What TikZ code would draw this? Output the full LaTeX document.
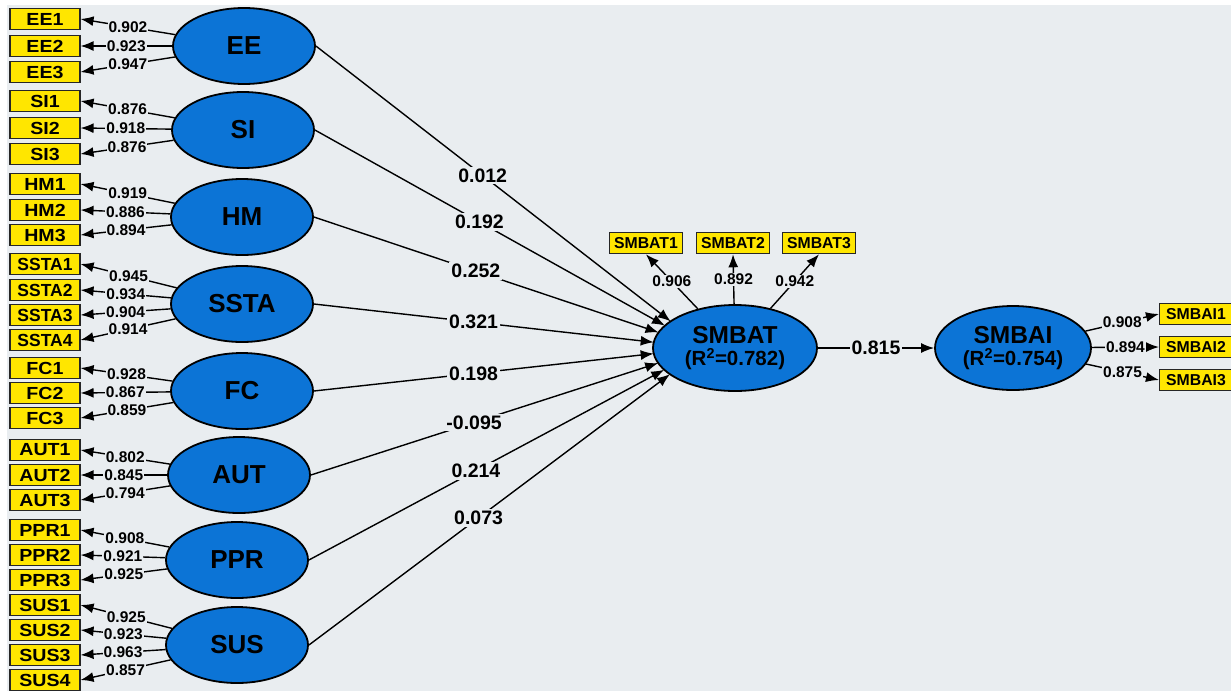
\documentclass[tikz,border=0pt]{standalone}
\usepackage{fontspec}
\usepackage{graphicx}
\setmainfont{Liberation Sans}
\usetikzlibrary{shapes.geometric,arrows.meta,intersections}

\definecolor{canvas}{RGB}{233,237,240}
\definecolor{lvblue}{RGB}{12,116,214}
\definecolor{indyellow}{RGB}{255,230,0}

\newcommand{\fsz}[1]{\fontsize{#1}{#1}\selectfont\bfseries}

% indicator caption: slightly widened, but never wider than the box allows
\newsavebox\indtext
\newcommand{\indcap}[1]{%
  \sbox\indtext{\scalebox{1.12}[1]{#1}}%
  \ifdim\wd\indtext>55pt\relax
    \resizebox{55pt}{\height}{\usebox\indtext}%
  \else\usebox\indtext\fi}

\tikzset{
  lv/.style={ellipse, draw=black, line width=1.8pt, fill=lvblue, inner sep=0pt,
             minimum width=142pt, minimum height=76pt, font=\fsz{26}},
  endo/.style={ellipse, draw=black, line width=1.8pt, fill=lvblue, inner sep=0pt,
             align=center, font=\fsz{24.5}},
  ind/.style={rectangle, draw=black!85, line width=1.1pt, fill=indyellow, inner sep=0pt,
             minimum width=70pt, minimum height=21.5pt, font=\fsz{17.5}},
  indr/.style={ind, minimum width=73pt, font=\fsz{15.8}},
  load/.style={line width=1.4pt, -{Latex[length=13pt,width=10pt]}},
  struct/.style={line width=1.4pt, -{Latex[length=13pt,width=10pt]}},
  lbl/.style={fill=canvas, inner sep=1pt, font=\fsz{15.5}, pos=0.5},
  plbl/.style={fill=canvas, inner sep=2pt, font=\fsz{19.5}},
}

\begin{document}
\begin{tikzpicture}[x=1pt, y=-1pt]
\clip (0,0) rectangle (1231,691);
\fill[white] (0,0) rectangle (1231,691);
\fill[canvas] (7,5) rectangle (1231,691);

% exogenous constructs
\foreach \lv/\px/\py in {EE/244/46, SI/243/130, HM/242/217, SSTA/242/304,
                         FC/242/391, AUT/239/475, PPR/237/560, SUS/237/645}
  \node[lv] (\lv) at (\px,\py) {\lv};

% endogenous constructs
\node[endo, minimum width=164pt, minimum height=86pt] (SMBAT) at (735,348)
  {SMBAT\\[-2pt]{\fsz{20.5}(R\textsuperscript{2}=0.782)}};
\node[endo, minimum width=156pt, minimum height=84pt] (SMBAI) at (1013,348)
  {SMBAI\\[-2pt]{\fsz{20.5}(R\textsuperscript{2}=0.754)}};

% indicators of the exogenous constructs with their loadings
\foreach \nm/\py/\lv/\val in {
    EE1/19/EE/0.902, EE2/46/EE/0.923, EE3/72/EE/0.947,
    SI1/101/SI/0.876, SI2/128/SI/0.918, SI3/154/SI/0.876,
    HM1/184/HM/0.919, HM2/210/HM/0.886, HM3/235/HM/0.894,
    SSTA1/264/SSTA/0.945, SSTA2/290/SSTA/0.934, SSTA3/315/SSTA/0.904, SSTA4/340/SSTA/0.914,
    FC1/368/FC/0.928, FC2/393/FC/0.867, FC3/418/FC/0.859,
    AUT1/450/AUT/0.802, AUT2/475/AUT/0.845, AUT3/500/AUT/0.794,
    PPR1/530/PPR/0.908, PPR2/555/PPR/0.921, PPR3/580/PPR/0.925,
    SUS1/605/SUS/0.925, SUS2/630/SUS/0.923, SUS3/655/SUS/0.963, SUS4/680/SUS/0.857}
{
  \node[ind] (\nm) at (45,\py) {\indcap{\nm}};
  \draw[load] (\lv) -- (\nm.east) node[lbl] {\val};
}

% indicators of SMBAT
\foreach \nm/\px/\val in {SMBAT1/646/0.906, SMBAT2/733/0.892, SMBAT3/819/0.942}
{
  \node[indr] (\nm) at (\px,243) {\nm};
  \draw[load] (SMBAT) -- (\nm.south) node[lbl] {\val};
}

% indicators of SMBAI
\foreach \nm/\py/\val in {SMBAI1/314/0.908, SMBAI2/347/0.894, SMBAI3/380/0.875}
{
  \node[indr] (\nm) at (1196,\py) {\nm};
  \draw[load] (SMBAI) -- (\nm.west) node[lbl] {\val};
}

% structural paths into SMBAT
\path[name path=batrim] (735,348) ellipse [x radius=82pt, y radius=43pt];
\coordinate (aim) at (705,348);
\foreach \lv/\val in {EE/0.012, SI/0.192, HM/0.252, SSTA/0.321,
                      FC/0.198, AUT/-0.095, PPR/0.214, SUS/0.073}
{
  \path[name path=ray] (\lv.east) -- (aim);
  \draw[struct, name intersections={of=batrim and ray, by=tip}]
    (\lv.east) -- (tip) node[plbl, pos=0.47] {\val};
}

% SMBAT -> SMBAI
\draw[struct] (SMBAT) -- (SMBAI) node[plbl, pos=0.5] {0.815};
\end{tikzpicture}
\end{document}
